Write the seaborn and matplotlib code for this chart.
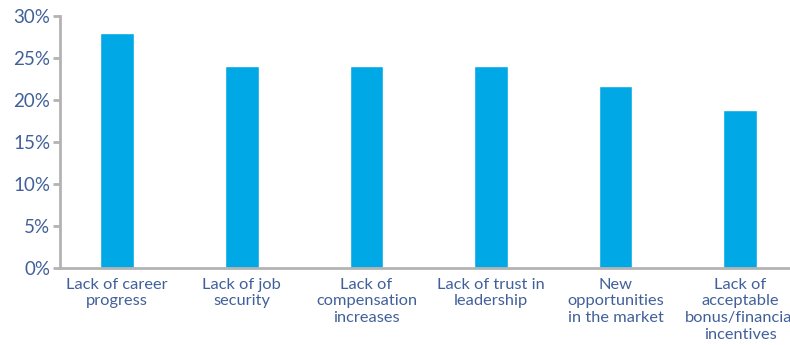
import matplotlib
matplotlib.use("Agg")
import matplotlib.pyplot as plt
import seaborn as sns
import pandas as pd

categories = [
    "Lack of career\nprogress",
    "Lack of job\nsecurity",
    "Lack of\ncompensation\nincreases",
    "Lack of trust in\nleadership",
    "New\nopportunities\nin the market",
    "Lack of\nacceptable\nbonus/financial\nincentives",
]
values = [28, 24, 24, 24, 21.7, 18.8]
yticks = [0, 5, 10, 15, 20, 25, 30]
ytick_labels = ["0%", "5%", "10%", "15%", "20%", "25%", "30%"]

sns.set_theme(style="white")
plt.rcParams["font.family"] = ["Lato", "DejaVu Sans"]

text_color = "#41609a"
bar_color = "#00a9e6"
axis_color = "#b3b3b3"

df = pd.DataFrame({"cat": categories, "val": values})

fig = plt.figure(figsize=(7.9, 3.45), dpi=100)
ax = fig.add_axes([60 / 790, 77 / 345, 730 / 790, 252 / 345])
sns.barplot(data=df, x="cat", y="val", color=bar_color, width=0.27,
            saturation=1, ax=ax)

ax.set_ylim(0, 30)
ax.set_xlim(-0.46, 5.4)
ax.set_yticks(yticks)
ax.set_yticklabels(ytick_labels)
ax.set_xlabel("")
ax.set_ylabel("")

for s in ["top", "right"]:
    ax.spines[s].set_visible(False)
for s in ["left", "bottom"]:
    ax.spines[s].set_color(axis_color)
    ax.spines[s].set_linewidth(2.0)

ax.tick_params(axis="y", which="both", left=True, length=5, width=2.0,
               color=axis_color, labelcolor=text_color, labelsize=13.5, pad=2)
ax.tick_params(axis="x", bottom=False, labelcolor=text_color, labelsize=11.8, pad=1)
for lbl in ax.get_xticklabels():
    lbl.set_linespacing(1.25)

fig.savefig("out.png", dpi=100)
